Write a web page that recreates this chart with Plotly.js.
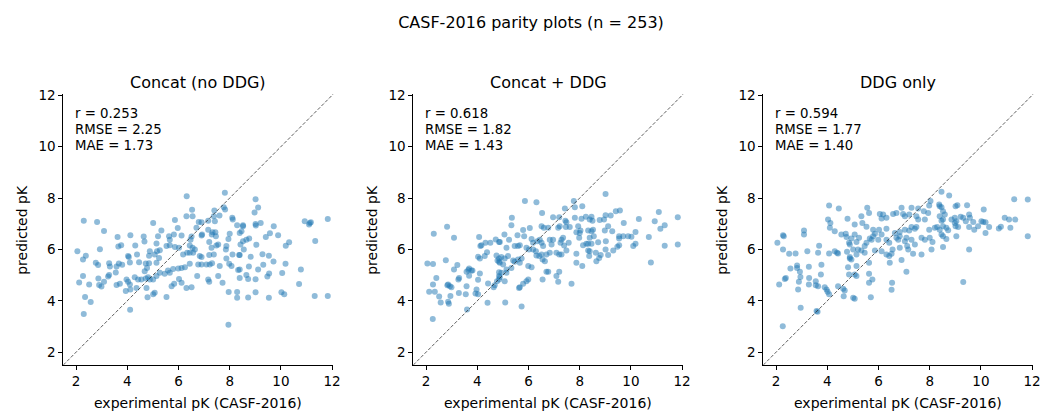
<!DOCTYPE html>
<html>
<head>
<meta charset="utf-8">
<script src="https://cdn.plot.ly/plotly-3.0.1.min.js"></script>
<style>
  html, body { margin: 0; padding: 0; background: #fff; }
  #chart { width: 1042px; height: 411px; }
</style>
</head>
<body>
<div id="chart"></div>
<script>
// CASF-2016 complexes: [experimental pK, predicted pK] for each model variant
const concatNoDDG = [
  [2.30,7.12],[2.82,7.07],[3.09,6.72],[3.62,6.48],[4.12,6.55],[4.64,6.50],[4.67,6.31],[3.65,6.11],[3.76,6.16],[4.31,6.15],
  [2.05,5.93],[2.93,6.01],[2.38,5.75],[2.27,5.61],[4.03,5.74],[4.06,5.70],[4.38,5.80],[4.85,5.75],[2.77,5.48],[2.86,5.39],
  [3.29,5.46],[3.32,5.33],[3.58,5.33],[3.67,5.45],[3.80,5.40],[4.10,5.49],[4.46,5.50],[4.72,5.45],[4.85,5.46],[4.77,5.28],
  [4.68,5.15],[2.27,4.96],[2.12,4.71],[2.51,4.63],[2.87,4.87],[2.90,4.61],[2.99,4.56],[3.09,4.74],[3.25,4.95],[3.29,5.00],
  [3.55,5.10],[3.58,4.61],[3.71,4.66],[3.97,4.83],[4.03,4.74],[4.10,4.63],[4.29,4.92],[4.42,4.83],[4.55,4.83],[4.72,4.87],
  [4.81,4.92],[3.94,4.38],[4.12,4.44],[4.36,4.50],[4.75,4.50],[4.79,4.14],[2.35,4.15],[2.57,3.95],[2.30,3.49],[4.11,3.65],
  [7.81,8.21],[6.32,8.07],[6.53,7.54],[7.40,7.51],[7.77,7.64],[7.82,7.55],[6.31,7.29],[6.55,7.29],[7.60,7.32],[7.38,7.29],
  [8.10,7.23],[8.12,7.16],[5.86,7.14],[6.79,7.07],[6.90,7.06],[7.16,7.12],[5.01,7.03],[7.42,7.10],[5.33,6.74],[5.97,6.83],
  [6.70,6.84],[7.16,6.77],[7.33,6.67],[7.44,6.67],[8.29,6.94],[5.20,6.51],[5.63,6.51],[5.82,6.58],[6.12,6.54],[6.51,6.50],
  [6.92,6.58],[6.90,6.54],[7.30,6.58],[7.46,6.51],[8.00,6.61],[5.66,6.38],[6.47,6.38],[7.20,6.29],[7.95,6.41],[5.14,6.23],
  [5.53,6.13],[5.66,6.16],[5.86,6.09],[6.02,6.06],[6.44,6.15],[6.55,6.06],[6.64,6.00],[7.29,6.06],[7.48,6.15],[7.55,6.19],
  [7.85,6.00],[7.87,6.13],[4.88,5.93],[5.16,5.93],[5.27,5.97],[6.34,5.87],[6.18,5.80],[6.44,5.87],[6.57,5.87],[8.11,5.80],
  [8.37,5.78],[5.07,5.80],[5.24,5.67],[5.14,5.48],[6.90,5.70],[6.83,5.74],[7.20,5.78],[7.38,5.80],[7.87,5.65],[6.77,5.41],
  [6.90,5.41],[7.09,5.41],[7.22,5.41],[7.31,5.46],[7.98,5.44],[8.07,5.35],[6.44,5.44],[6.25,5.31],[7.61,5.35],[6.12,5.28],
  [5.99,5.26],[5.79,5.24],[5.59,5.18],[5.66,5.09],[5.46,5.05],[5.27,5.09],[5.14,4.96],[5.01,4.83],[4.88,4.83],[6.73,4.96],
  [7.16,4.83],[7.20,4.74],[7.55,4.96],[8.33,5.20],[5.83,4.66],[5.73,4.57],[6.02,4.85],[6.12,4.70],[6.31,4.50],[6.51,4.53],
  [7.72,4.70],[5.07,4.31],[5.01,4.25],[5.53,4.15],[7.96,4.34],[8.29,4.34],[8.29,4.12],[7.95,3.07],
  [9.01,7.95],[9.11,7.63],[8.97,7.44],[8.52,6.94],[8.46,6.71],[8.39,6.64],[8.52,6.90],[9.01,6.99],[9.02,6.93],[9.21,7.03],
  [9.72,6.90],[9.57,6.63],[9.89,6.55],[9.41,6.48],[8.76,6.42],[8.65,6.38],[8.52,6.32],[8.42,6.19],[9.04,6.18],[10.19,6.14],
  [10.32,6.28],[10.93,7.10],[11.13,7.03],[11.10,6.97],[11.17,7.06],[11.83,7.18],[11.34,6.33],[8.55,6.00],[8.39,5.78],[8.82,5.71],
  [9.28,5.81],[9.53,5.75],[9.71,5.53],[10.18,5.44],[9.31,5.40],[8.75,5.33],[9.11,5.22],[8.39,5.22],[8.65,5.00],[8.72,4.85],
  [8.39,4.89],[9.01,4.84],[9.54,5.06],[9.47,4.95],[10.05,5.08],[10.78,5.22],[10.71,4.65],[9.01,4.33],[8.72,4.13],[9.53,4.12],
  [10.02,4.33],[10.13,4.25],[11.32,4.19],[11.83,4.19]
];

const concatWithDDG = [
  [2.82,6.88],[2.30,6.61],[3.09,6.45],[4.07,6.48],[4.12,6.13],[4.16,6.16],[4.32,6.26],[4.51,6.26],[4.72,6.39],[4.85,6.29],
  [4.38,5.89],[4.03,5.71],[4.10,5.65],[4.29,5.74],[4.75,5.76],[4.79,5.57],[4.85,5.52],[4.85,5.65],[2.05,5.45],[2.27,5.43],
  [2.77,5.58],[3.22,5.39],[3.09,5.22],[3.68,5.26],[3.77,5.18],[3.65,5.20],[3.58,5.13],[3.81,5.18],[4.10,5.06],[3.68,4.97],
  [3.29,4.89],[3.26,4.83],[2.40,4.89],[2.27,4.63],[2.12,4.35],[2.34,4.35],[2.51,4.17],[2.57,3.93],[2.86,4.63],[2.93,4.57],
  [2.83,4.60],[2.99,4.53],[2.95,4.19],[2.86,3.96],[2.89,3.88],[3.28,4.30],[3.58,4.57],[3.55,4.25],[3.97,4.44],[3.93,4.28],
  [4.03,4.25],[4.03,4.82],[4.42,4.67],[4.68,4.60],[4.64,4.53],[4.77,4.76],[4.85,4.83],[4.85,4.96],[4.85,5.11],[4.40,3.92],
  [3.60,3.66],[2.26,3.29],
  [5.86,7.88],[6.31,7.84],[7.77,7.88],[8.10,7.68],[7.81,7.64],[7.42,7.59],[6.53,7.42],[5.35,7.23],[5.33,6.94],[6.96,7.25],
  [7.20,7.25],[7.44,7.12],[7.48,7.06],[7.81,7.23],[8.07,7.19],[8.24,7.27],[6.51,6.90],[6.60,6.84],[6.77,6.84],[7.16,6.84],
  [7.22,6.90],[7.46,6.87],[7.61,6.87],[7.94,6.90],[8.03,6.74],[8.00,6.64],[7.87,6.67],[7.98,6.45],[8.33,6.74],[5.06,6.58],
  [5.24,6.38],[5.57,6.55],[5.79,6.76],[6.05,6.83],[5.83,6.51],[6.12,6.41],[6.18,6.26],[6.34,6.32],[6.44,6.38],[6.51,6.26],
  [6.57,6.13],[6.83,6.38],[6.90,6.19],[6.96,6.38],[7.29,6.38],[7.35,6.45],[7.25,6.26],[7.39,6.15],[7.57,6.26],[8.13,6.16],
  [8.26,6.22],[8.33,6.22],[4.88,6.29],[5.14,6.06],[5.46,6.13],[5.59,6.13],[5.66,6.16],[5.92,6.06],[6.02,6.00],[6.18,6.00],
  [6.29,5.93],[6.31,5.76],[6.42,5.74],[6.51,5.80],[6.55,5.61],[6.64,5.54],[6.70,5.80],[6.83,5.87],[7.09,5.87],[7.20,5.80],
  [7.29,5.80],[7.48,5.96],[7.87,5.83],[8.33,5.96],[8.37,5.74],[4.94,5.70],[5.07,5.65],[5.20,5.74],[5.40,5.57],[5.46,5.52],
  [5.59,5.61],[5.73,5.65],[5.66,5.48],[5.99,5.35],[6.12,5.31],[4.88,5.48],[5.01,5.41],[5.33,5.28],[5.14,5.22],[4.94,5.09],
  [4.88,4.92],[5.14,5.09],[5.07,4.76],[6.70,5.13],[6.77,5.13],[7.20,5.13],[7.09,4.96],[7.16,4.74],[6.55,4.83],[5.99,4.83],
  [5.92,4.76],[5.79,4.66],[5.66,4.53],[5.63,4.50],[7.68,4.66],[7.87,5.48],[8.10,5.35],[5.09,3.93],[5.73,3.78],
  [9.01,8.16],[9.41,7.49],[9.57,7.51],[9.21,7.32],[9.01,7.33],[8.95,7.16],[8.78,7.14],[8.46,7.27],[8.50,7.12],[8.39,7.16],
  [9.72,7.03],[9.11,6.90],[8.98,6.74],[9.27,6.71],[8.52,6.77],[8.46,6.71],[8.55,6.51],[8.39,6.45],[10.31,7.18],[11.09,7.46],
  [10.93,7.10],[11.32,6.94],[11.15,6.80],[11.83,7.25],[10.18,6.68],[9.54,6.51],[9.70,6.51],[9.89,6.51],[10.02,6.49],[9.54,6.42],
  [8.72,6.28],[8.46,6.22],[9.02,6.32],[9.54,6.16],[9.47,6.10],[10.18,6.22],[10.09,6.13],[10.70,6.48],[11.32,6.14],[11.83,6.19],
  [9.31,5.96],[9.01,6.00],[8.39,5.93],[8.63,5.87],[8.82,5.78],[9.11,5.78],[8.76,5.67],[8.65,5.54],[10.78,5.49]
];

const ddgOnly = [
  [4.07,7.71],[4.45,7.59],[4.03,7.16],[4.12,7.03],[4.10,6.84],[4.29,6.71],[4.79,7.19],[3.09,6.74],[3.09,6.58],[2.27,6.55],
  [2.30,6.51],[2.05,6.26],[2.27,6.00],[2.51,5.83],[2.76,5.84],[3.22,5.93],[3.64,5.87],[3.68,6.14],[4.07,5.84],[4.29,5.93],
  [4.38,5.87],[4.42,5.84],[4.55,6.58],[4.72,6.61],[4.75,6.48],[4.85,6.26],[4.77,5.91],[2.82,5.37],[2.82,5.28],[2.56,5.26],
  [2.93,5.13],[3.28,5.32],[3.77,5.40],[3.75,5.02],[3.29,4.89],[2.95,4.93],[2.89,4.74],[2.86,4.44],[2.38,4.89],[2.34,4.85],
  [2.12,4.63],[3.28,4.63],[3.55,4.76],[3.64,4.57],[3.55,4.60],[3.90,4.53],[3.97,4.44],[4.01,4.35],[4.07,4.25],[4.42,4.57],
  [4.62,4.47],[4.68,4.40],[4.64,4.18],[4.81,5.31],[4.85,5.02],[2.96,3.73],[3.58,3.60],[3.62,3.57],[2.26,3.01],
  [8.03,7.88],[7.98,7.71],[8.37,7.75],[5.56,7.62],[5.63,7.42],[5.33,7.29],[6.05,7.38],[6.18,7.36],[6.31,7.23],[6.12,7.20],
  [6.57,7.38],[6.70,7.42],[6.90,7.62],[6.96,7.38],[7.03,7.29],[7.20,7.36],[7.29,7.62],[7.55,7.59],[7.48,7.29],[7.77,7.49],
  [7.81,7.16],[7.94,7.42],[7.55,7.16],[5.07,6.97],[5.37,7.03],[5.53,6.88],[5.79,6.77],[6.02,6.77],[6.31,6.80],[5.86,6.61],
  [6.12,6.58],[6.64,6.64],[6.83,6.68],[7.03,6.77],[7.20,6.74],[7.29,6.87],[7.42,6.80],[7.48,6.87],[7.98,6.77],[8.20,6.84],
  [8.29,6.87],[5.07,6.58],[4.94,6.42],[5.24,6.45],[5.14,6.29],[4.88,6.19],[5.53,6.26],[5.66,6.42],[5.46,6.13],[5.73,6.38],
  [5.79,6.51],[5.99,6.38],[6.31,6.38],[6.42,6.26],[6.70,6.45],[6.77,6.38],[6.83,6.51],[7.03,6.32],[7.09,6.45],[7.29,6.38],
  [7.42,6.19],[7.68,6.45],[7.81,6.38],[8.00,6.45],[8.11,6.29],[5.01,6.00],[5.20,6.00],[5.14,5.80],[5.33,5.96],[5.46,5.87],
  [5.86,5.96],[6.12,5.93],[6.31,5.80],[6.42,5.74],[6.51,5.83],[6.44,5.48],[6.55,6.00],[6.83,6.06],[7.12,6.13],[7.16,6.00],
  [7.35,5.83],[7.68,5.80],[8.07,6.00],[4.88,5.65],[4.94,5.61],[5.14,5.35],[5.07,5.02],[5.14,4.96],[5.63,5.48],[5.63,5.05],
  [5.76,4.83],[5.63,4.70],[6.90,5.59],[7.09,5.13],[6.53,4.70],[6.51,4.43],[5.01,4.12],[5.07,4.08],[5.70,4.14],[4.88,5.70],
  [8.46,8.24],[8.76,8.10],[9.01,7.68],[9.08,7.72],[9.46,7.72],[10.11,7.55],[11.30,7.95],[11.83,7.94],[8.39,7.68],[8.46,7.64],
  [8.52,7.49],[8.59,7.36],[8.39,7.29],[8.46,7.12],[8.52,7.16],[8.85,7.16],[8.98,7.23],[9.04,7.10],[8.98,7.03],[9.01,6.90],
  [9.11,6.87],[9.21,7.27],[9.31,7.23],[9.41,7.10],[9.54,7.36],[9.57,7.23],[9.70,7.07],[9.54,6.87],[9.74,6.77],[9.89,6.90],
  [10.02,7.10],[10.09,7.07],[10.18,7.06],[10.32,6.87],[10.18,6.64],[10.70,6.81],[10.78,6.88],[10.93,7.23],[11.10,7.16],[11.34,7.16],
  [11.15,6.84],[11.83,6.51],[8.52,6.90],[8.65,6.84],[8.72,6.75],[8.39,6.77],[8.46,6.58],[8.52,6.51],[8.65,6.41],[9.04,6.51],
  [8.52,6.09],[9.54,6.00],[9.31,4.73]
];

const panelTitles = ['Concat (no DDG)', 'Concat + DDG', 'DDG only'];
const panelData = [concatNoDDG, concatWithDDG, ddgOnly];
const statR    = ['0.253', '0.618', '0.594'];
const statRMSE = ['2.25', '1.82', '1.77'];
const statMAE  = ['1.73', '1.43', '1.40'];
const tickValues = [2, 4, 6, 8, 10, 12];
const axisLimits = [1.5, 12.05];

const FONT = 'DejaVu Sans, Liberation Sans, sans-serif';
const W = 1042, H = 411;
const axLeft = [63.3, 413.3, 763.3];   // px
const axWidth = 270.1;
const axTop = 94, axBottom = 365;

const traces = [];
const layout = {
  width: W, height: H,
  margin: {l: 0, r: 0, t: 0, b: 0},
  paper_bgcolor: '#fff', plot_bgcolor: '#fff',
  showlegend: false,
  font: {family: FONT, color: '#000'},
  title: {
    text: 'CASF-2016 parity plots (n = 253)',
    font: {family: FONT, size: 16, color: '#000'},
    x: 531 / W, xref: 'paper', xanchor: 'center',
    y: 1 - 22 / H, yref: 'container', yanchor: 'middle'
  },
  annotations: []
};

const yDomain = [(H - axBottom) / H, (H - axTop) / H];

panelData.forEach((pts, i) => {
  const n = i === 0 ? '' : String(i + 1);
  const xa = 'x' + n, ya = 'y' + n;

  traces.push({
    type: 'scatter', mode: 'markers',
    x: pts.map(p => p[0]), y: pts.map(p => p[1]),
    xaxis: xa, yaxis: ya,
    marker: {color: 'rgba(31,119,180,0.5)', size: 6, line: {width: 0}},
    hoverinfo: 'skip'
  });
  // identity line y = x
  traces.push({
    type: 'scatter', mode: 'lines',
    x: axisLimits, y: axisLimits,
    xaxis: xa, yaxis: ya,
    line: {color: 'rgba(40,40,40,0.75)', width: 1, dash: '3.5px,1.8px'},
    hoverinfo: 'skip'
  });

  const axisCommon = {
    range: axisLimits,
    tickmode: 'array', tickvals: tickValues, ticktext: tickValues.map(String),
    showline: true, linecolor: '#000', linewidth: 1,
    ticks: 'outside', ticklen: 4, tickwidth: 1, tickcolor: '#000',
    showgrid: false, zeroline: false, automargin: false,
    tickfont: {family: FONT, size: 13.5, color: '#000'},
    fixedrange: true
  };
  layout['xaxis' + n] = Object.assign({}, axisCommon, {
    domain: [axLeft[i] / W, (axLeft[i] + axWidth) / W], anchor: ya
  });
  layout['yaxis' + n] = Object.assign({}, axisCommon, {
    domain: yDomain, anchor: xa
  });

  const cx = (axLeft[i] + axWidth / 2) / W;
  layout.annotations.push(
    {text: panelTitles[i], xref: 'paper', yref: 'paper', x: cx, y: (H - 83) / H,
     xanchor: 'center', yanchor: 'middle', showarrow: false,
     font: {family: FONT, size: 16, color: '#000'}},
    {text: 'experimental pK (CASF-2016)', xref: 'paper', yref: 'paper', x: cx, y: (H - 403) / H,
     xanchor: 'center', yanchor: 'middle', showarrow: false,
     font: {family: FONT, size: 14, color: '#000'}},
    {text: 'predicted pK', xref: 'paper', yref: 'paper', x: (axLeft[i] - 41) / W, y: (H - 229.5) / H,
     xanchor: 'center', yanchor: 'middle', textangle: -90, showarrow: false,
     font: {family: FONT, size: 14, color: '#000'}}
  );
  const stats = ['r = ' + statR[i], 'RMSE = ' + statRMSE[i], 'MAE = ' + statMAE[i]];
  const rowsY = [113.3, 129.3, 145];
  stats.forEach((s, k) => {
    layout.annotations.push({
      text: s, xref: 'paper', yref: 'paper',
      x: (axLeft[i] + 10) / W, y: (H - rowsY[k]) / H,
      xanchor: 'left', yanchor: 'middle', showarrow: false,
      font: {family: FONT, size: 13.3, color: '#000'}
    });
  });
});

Plotly.newPlot('chart', traces, layout, {staticPlot: true, displayModeBar: false});
</script>
</body>
</html>
